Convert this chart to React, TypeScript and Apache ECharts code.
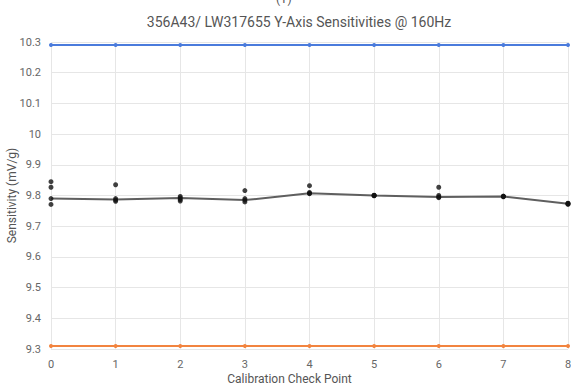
import React, { useEffect, useRef } from "react";
import * as echarts from "echarts";

const checkPoints = [0, 1, 2, 3, 4, 5, 6, 7, 8];
const upperLimit = [10.29, 10.29, 10.29, 10.29, 10.29, 10.29, 10.29, 10.29, 10.29];
const lowerLimit = [9.31, 9.31, 9.31, 9.31, 9.31, 9.31, 9.31, 9.31, 9.31];
const nominal = [9.79, 9.787, 9.792, 9.785, 9.807, 9.8, 9.795, 9.797, 9.773];
const readings = [
  [9.845, 9.827, 9.79, 9.771],
  [9.835, 9.79, 9.785, 9.781],
  [9.797, 9.792, 9.787, 9.782],
  [9.816, 9.79, 9.785, 9.779],
  [9.832, 9.81, 9.807, 9.806],
  [9.801, 9.8, 9.799, 9.8],
  [9.827, 9.8, 9.795, 9.793],
  [9.798, 9.797, 9.796, 9.797],
  [9.775, 9.773, 9.771, 9.774],
];
const yTicks = [9.3, 9.4, 9.5, 9.6, 9.7, 9.8, 9.9, 10, 10.1, 10.2, 10.3];

export default function App() {
  const ref = useRef<HTMLDivElement>(null);
  useEffect(() => {
    document.body.style.margin = "0";
    const chart = echarts.init(ref.current!, null, { renderer: "svg" });
    const font = "Roboto, Arial, sans-serif";
    const scatterData: number[][] = [];
    readings.forEach((arr, i) => arr.forEach((v) => scatterData.push([checkPoints[i], v])));
    chart.setOption({
      animation: false,
      backgroundColor: "#ffffff",
      title: {
        text: "356A43/ LW317655 Y-Axis Sensitivities @ 160Hz",
        left: 294,
        textAlign: "center",
        top: 10,
        textStyle: { fontFamily: font, fontSize: 14, fontWeight: "normal", color: "#555555" },
      },
      graphic: [
        {
          type: "text",
          left: 276,
          top: -7,
          style: { text: "(Y)", font: `12px ${font}`, fill: "#555555" },
        },
      ],
      grid: {
        left: 51,
        right: 3,
        top: 42,
        bottom: 41,
        containLabel: false,
        outerBoundsMode: "none",
      },
      xAxis: {
        type: "value",
        min: 0,
        max: 8,
        interval: 1,
        name: "Calibration Check Point",
        nameLocation: "middle",
        nameGap: 24,
        nameMoveOverlap: false,
        nameTextStyle: {
          fontFamily: font,
          fontSize: 12,
          color: "#555555",
          padding: [0, 40, 0, 0],
        },
        axisLine: { show: false },
        axisTick: { show: false },
        axisLabel: { fontFamily: font, fontSize: 11, color: "#666666", margin: 10 },
        splitLine: { show: true, lineStyle: { color: "#e6e6e6", width: 1 } },
      },
      yAxis: {
        type: "value",
        min: 9.3,
        max: 10.3,
        interval: 0.1,
        name: "Sensitivity (mV/g)",
        nameLocation: "middle",
        nameGap: 33,
        nameMoveOverlap: false,
        nameTextStyle: { fontFamily: font, fontSize: 12, color: "#555555" },
        axisLine: { show: false },
        axisTick: { show: false },
        axisLabel: {
          fontFamily: font,
          fontSize: 11,
          color: "#666666",
          margin: 10,
          formatter: (v: number) => {
            const t = yTicks.find((x) => Math.abs(x - v) < 1e-6);
            return t !== undefined ? String(t) : "";
          },
        },
        splitLine: { show: true, lineStyle: { color: "#e6e6e6", width: 1 } },
      },
      series: [
        {
          type: "line",
          data: checkPoints.map((x, i) => [x, upperLimit[i]]),
          symbol: "circle",
          symbolSize: 4,
          lineStyle: { color: "#4a7bdc", width: 2 },
          itemStyle: { color: "#4a7bdc" },
        },
        {
          type: "line",
          data: checkPoints.map((x, i) => [x, lowerLimit[i]]),
          symbol: "circle",
          symbolSize: 4,
          lineStyle: { color: "#f2843f", width: 2 },
          itemStyle: { color: "#f2843f" },
        },
        {
          type: "line",
          data: checkPoints.map((x, i) => [x, nominal[i]]),
          symbol: "none",
          lineStyle: { color: "#5f5f5f", width: 2 },
        },
        {
          type: "scatter",
          data: scatterData,
          symbol: "circle",
          symbolSize: 5,
          itemStyle: { color: "#111111" },
          z: 5,
        },
      ],
    });
    return () => chart.dispose();
  }, []);
  return (
    <div
      ref={ref}
      style={{ position: "fixed", left: 0, top: 0, width: 571, height: 390 }}
    />
  );
}
